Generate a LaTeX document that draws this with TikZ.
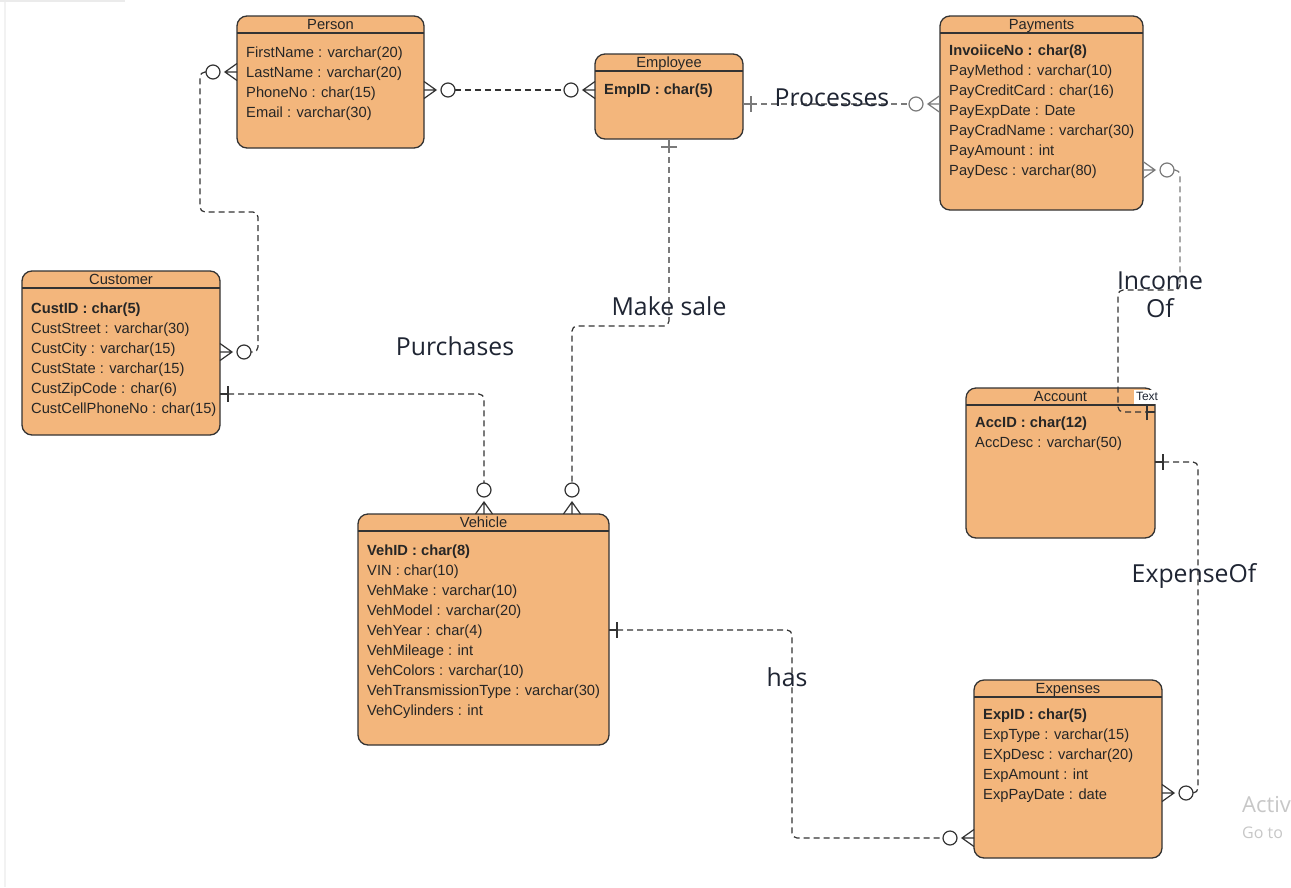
\documentclass[tikz,border=0pt]{standalone}
\usepackage{fontspec}
\setmainfont{Liberation Sans}
\newfontfamily\labfont{Open Sans}
\usetikzlibrary{calc}
\definecolor{entfill}{HTML}{F3B67C}
\definecolor{entline}{HTML}{333333}
\definecolor{txt}{HTML}{262626}
\definecolor{labc}{HTML}{1F2533}
\definecolor{conn}{HTML}{333333}
\definecolor{conng}{HTML}{7A7A7A}
\tikzset{
  entity/.style={draw=entline, fill=entfill, line width=1.3pt, rounded corners=10pt, rectangle, inner sep=0pt, outer sep=0pt, anchor=north west},
  enttitle/.style={font=\fontsize{14.7}{17}\selectfont, text=txt, anchor=base, inner sep=0pt},
  attr/.style={font=\fontsize{14.7}{17}\selectfont, text=txt, anchor=base west, inner sep=0pt},
  rel/.style={font=\labfont\fontsize{24.8}{28}\selectfont, text=labc, inner sep=0pt},
  connline/.style={draw=conn, line width=1.2pt, dash pattern=on 6pt off 4pt, rounded corners=5pt},
  connlineg/.style={connline, draw=conng},
  ermark/.style={line width=1.2pt, solid},
}
\newcommand\erEntity[6]{%
  \node[entity, minimum width=#4pt, minimum height=#5pt] (#1) at (#2,#3) {};
  \draw[draw=entline, line width=1.3pt] ([yshift=-17pt]#1.north west) -- ([yshift=-17pt]#1.north east);
  \node[enttitle] at ([yshift=-13pt]#1.north) {#6};}
\newcommand\erAttrs[3]{%
  \foreach \t [count=\i from 0] in {#3} {\node[attr] at ([xshift=9pt,yshift={-(#2+20*\i)*1pt}]#1.north west) {\t};}}
\newcommand\zeroMany[3][conn]{%
  \begin{scope}[shift={#2}, rotate=#3]
    \draw[ermark, draw=#1] (0,-8.5) -- (12,0) -- (0,8.5) (0,0) -- (12,0);
    \draw[ermark, draw=#1, fill=white] (24,0) circle[radius=7];
  \end{scope}}
\newcommand\oneMark[3][conn]{%
  \begin{scope}[shift={#2}, rotate=#3]
    \draw[ermark, draw=#1] (8,-8) -- (8,8) (0,0) -- (8,0);
  \end{scope}}
\begin{document}
\begin{tikzpicture}[x=1pt, y=-1pt]
\useasboundingbox (0,0) rectangle (1291,887);
\fill[white] (0,0) rectangle (1291,887);
\draw[draw=black!8, line width=2pt] (0,1) -- (125,1);
\draw[draw=black!5, line width=1.5pt] (5,2) -- (5,887);

% entities
\erEntity{person}{237}{16}{187}{132}{Person}
\erAttrs{person}{41}{FirstName : varchar(20), LastName : varchar(20), PhoneNo : char(15), Email : varchar(30)}

\erEntity{employee}{595}{54}{148}{85}{Employee}
\erAttrs{employee}{40}{{\bfseries EmpID : char(5)}}

\erEntity{payments}{940}{16}{203}{194}{Payments}
\erAttrs{payments}{39}{{\bfseries InvoiiceNo : char(8)}, PayMethod : varchar(10), PayCreditCard : char(16), PayExpDate : Date, PayCradName : varchar(30), PayAmount : int, PayDesc : varchar(80)}

\erEntity{customer}{22}{271}{198}{164}{Customer}
\erAttrs{customer}{42}{{\bfseries CustID : char(5)}, CustStreet : varchar(30), CustCity : varchar(15), CustState : varchar(15), CustZipCode : char(6), CustCellPhoneNo : char(15)}

\erEntity{account}{966}{388}{189}{150}{Account}
\erAttrs{account}{39}{{\bfseries AccID : char(12)}, AccDesc : varchar(50)}

\erEntity{vehicle}{358}{514}{251}{231}{Vehicle}
\erAttrs{vehicle}{41}{{\bfseries VehID : char(8)}, VIN : char(10), VehMake : varchar(10), VehModel : varchar(20), VehYear : char(4), VehMileage : int, VehColors : varchar(10), VehTransmissionType : varchar(30), VehCylinders : int}

\erEntity{expenses}{974}{680}{188}{178}{Expenses}
\erAttrs{expenses}{39}{{\bfseries ExpID : char(5)}, ExpType : varchar(15), EXpDesc : varchar(20), ExpAmount : int, ExpPayDate : date}

\node[fill=white, inner sep=0pt, minimum width=26pt, minimum height=14.5pt, font=\fontsize{12}{14}\selectfont, text=labc] (textlbl) at (1147,396.8) {Text};

% Person -- Customer
\coordinate (e1a) at (person.west |- 0,72);
\coordinate (e1b) at (customer.east |- 0,352);
\draw[connline] ([xshift=-31pt]e1a) -- (200,72) -- (200,212) -- (258,212) -- (258,352) -- ([xshift=31pt]e1b);
\zeroMany{(e1a)}{180}
\zeroMany{(e1b)}{0}

% Person -- Employee
\coordinate (e2a) at (person.east |- 0,90);
\coordinate (e2b) at (employee.west |- 0,90);
\draw[connline] ([xshift=31pt]e2a) -- ([xshift=-31pt]e2b);
\zeroMany{(e2a)}{0}
\zeroMany{(e2b)}{180}

% Employee -- Payments
\coordinate (e3a) at (employee.east |- 0,104);
\coordinate (e3b) at (payments.west |- 0,104);
\draw[connlineg] ([xshift=8pt]e3a) -- ([xshift=-31pt]e3b);
\oneMark[conng]{(e3a)}{0}
\zeroMany[conng]{(e3b)}{180}

% Employee -- Vehicle
\coordinate (e4b) at (vehicle.north -| 572,0);
\coordinate (e4m) at (669,318);
\draw[connlineg] ([yshift=-8pt]employee.south) -- (e4m);
\draw[connline] (e4m) -- (669,326) -- (572,326) -- ([yshift=31pt]e4b);
\oneMark[conng]{(employee.south)}{270}
\zeroMany{(e4b)}{90}

% Customer -- Vehicle
\coordinate (e5a) at (customer.east |- 0,394);
\coordinate (e5b) at (vehicle.north -| 484,0);
\draw[connline] ([xshift=8pt]e5a) -- (484,394) -- ([yshift=31pt]e5b);
\oneMark{(e5a)}{0}
\zeroMany{(e5b)}{90}

% Payments -- Account
\coordinate (e6a) at (payments.east |- 0,170);
\coordinate (e6b) at (account.east |- 0,412);
\coordinate (e6m) at (1180,284);
\draw[connlineg] ([xshift=31pt]e6a) -- (1180,170) -- (e6m);
\draw[connline] (e6m) -- (1180,290) -- (1118,290) -- (1118,412) -- ([xshift=-8pt]e6b);
\zeroMany[conng]{(e6a)}{0}
\oneMark{(e6b)}{180}

% Account -- Expenses
\coordinate (e7a) at (account.east |- 0,462);
\coordinate (e7b) at (expenses.east |- 0,793);
\draw[connline] ([xshift=8pt]e7a) -- (1198,462) -- (1198,793) -- ([xshift=31pt]e7b);
\oneMark{(e7a)}{0}
\zeroMany{(e7b)}{0}

% Vehicle -- Expenses
\coordinate (e8a) at (vehicle.east |- 0,630);
\coordinate (e8b) at (expenses.west |- 0,838);
\draw[connline] ([xshift=8pt]e8a) -- (792,630) -- (792,838) -- ([xshift=-31pt]e8b);
\oneMark{(e8a)}{0}
\zeroMany{(e8b)}{180}

% relationship labels
\node[rel] (lproc) at (832,98) {Processes};
\node[rel] (lsale) at (669,306) {Make sale};
\node[rel] (lpurch) at (455,346) {Purchases};
\node[rel, align=center, font=\labfont\fontsize{24.8}{28}\selectfont] (linc) at (1160,295) {Income\\Of};
\node[rel] (lexp) at (1194,576) {ExpenseOf};
\node[rel] (lhas) at (787,677) {has};

% watermark
\node[anchor=west, inner sep=0pt, font=\labfont\fontsize{22}{26}\selectfont, text=black!22] (wm1) at (1242,805) {Activ};
\node[anchor=west, inner sep=0pt, font=\labfont\fontsize{16}{19}\selectfont, text=black!22] (wm2) at (1242,833) {Go to};
\end{tikzpicture}
\end{document}
